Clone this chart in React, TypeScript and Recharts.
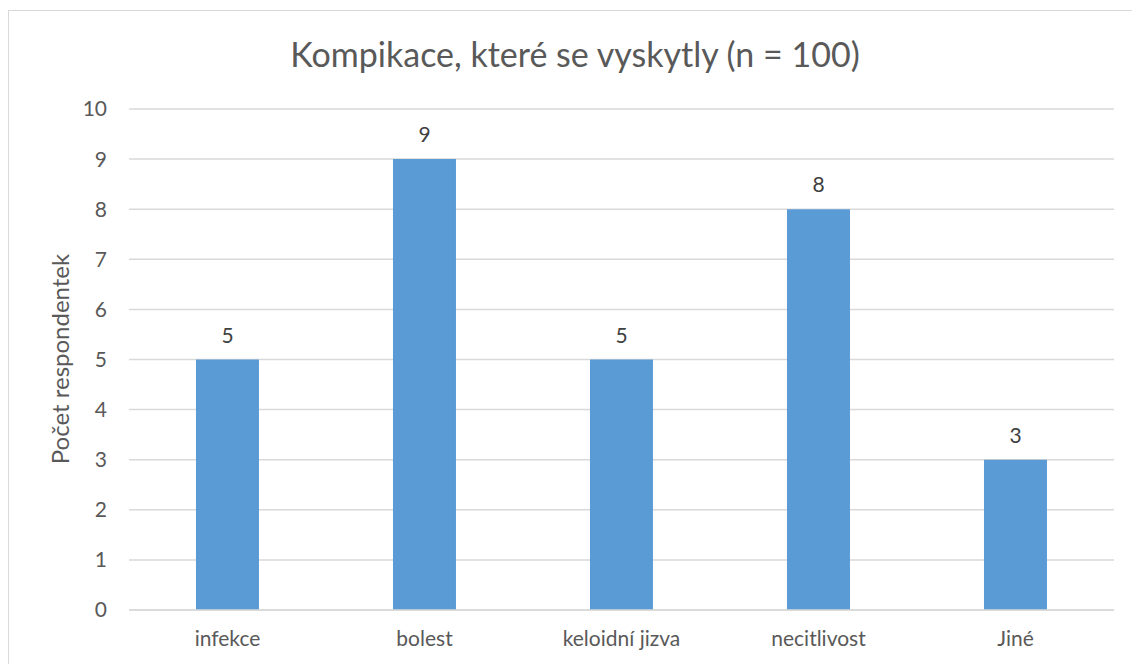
import { BarChart, Bar, XAxis, YAxis, CartesianGrid, LabelList } from 'recharts'

const categories = ['infekce', 'bolest', 'keloidní jizva', 'necitlivost', 'Jiné']
const counts = [5, 9, 5, 8, 3]
const yTicks = [0, 1, 2, 3, 4, 5, 6, 7, 8, 9, 10]

const data = categories.map((name, i) => ({ name, value: counts[i] }))

const FONT = 'Lato, "Open Sans", sans-serif'

export default function App() {
  return (
    <div style={{ position: 'absolute', left: 0, top: 0, width: 1132, height: 664, background: '#fff', fontFamily: FONT, overflow: 'hidden' }}>
      <div
        style={{
          position: 'absolute',
          left: 8,
          top: 10,
          width: 1140,
          height: 700,
          border: '1.5px solid #D9D9D9',
          boxSizing: 'border-box',
        }}
      />
      <div
        style={{
          position: 'absolute',
          left: 0,
          top: 33,
          width: 1150,
          textAlign: 'center',
          fontSize: 34,
          color: '#595959',
        }}
      >
        Kompikace, které se vyskytly (n = 100)
      </div>
      <div
        style={{
          position: 'absolute',
          left: 59,
          top: 359,
          transform: 'translate(-50%, -50%) rotate(-90deg)',
          fontSize: 24,
          color: '#595959',
          whiteSpace: 'nowrap',
        }}
      >
        Počet respondentek
      </div>
      <div style={{ position: 'absolute', left: 0, top: 0 }}>
        <BarChart
          width={1132}
          height={664}
          data={data}
          margin={{ top: 109, right: 18, left: 70, bottom: 14 }}
          barCategoryGap="34%"
        >
          <CartesianGrid vertical={false} stroke="#D9D9D9" strokeWidth={1.5} />
          <XAxis
            dataKey="name"
            height={40}
            axisLine={{ stroke: '#D9D9D9', strokeWidth: 1.5 }}
            tickLine={false}
            tick={{ fontSize: 21, fill: '#595959', fontFamily: FONT }}
            tickMargin={15}
          />
          <YAxis
            width={59}
            domain={[0, 10]}
            ticks={yTicks}
            axisLine={false}
            tickLine={false}
            tickMargin={16}
            tick={{ fontSize: 21, fill: '#595959', fontFamily: FONT }}
          />
          <Bar dataKey="value" fill="#5B9BD5" isAnimationActive={false}>
            <LabelList dataKey="value" position="top" offset={17} style={{ fontSize: 21, fill: '#404040', fontFamily: FONT }} />
          </Bar>
        </BarChart>
      </div>
    </div>
  )
}
